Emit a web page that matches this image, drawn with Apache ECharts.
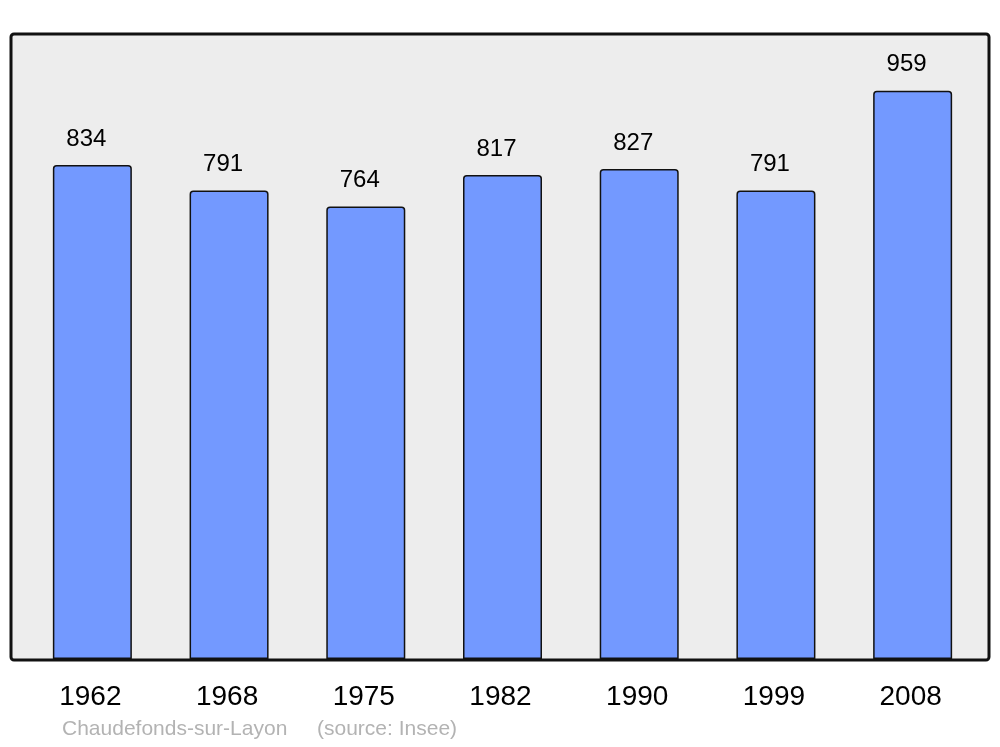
<!DOCTYPE html>
<html>
<head>
<meta charset="utf-8">
<script src="https://cdn.jsdelivr.net/npm/echarts@6/dist/echarts.min.js"></script>
<style>html,body{margin:0;padding:0;background:#fff}#c{width:1000px;height:747px}</style>
</head>
<body>
<div id="c"></div>
<script>
const years = ['1962','1968','1975','1982','1990','1999','2008'];
const population = [834, 791, 764, 817, 827, 791, 959];
const footerTitle = 'Chaudefonds-sur-Layon';
const footerSource = '(source: Insee)';

const chart = echarts.init(document.getElementById('c'), null, {renderer: 'canvas'});
chart.setOption({
  animation: false,
  backgroundColor: '#ffffff',
  grid: {left: 24, right: 19, top: 34, bottom: 88},
  xAxis: {
    type: 'category',
    data: years,
    axisLine: {show: false},
    axisTick: {show: false},
    axisLabel: {
      fontFamily: 'Liberation Sans, Arial, sans-serif',
      fontSize: 28, color: '#000', margin: 24, padding: [0, 4, 0, 0]
    }
  },
  yAxis: {
    type: 'value', min: 0, max: 1055,
    axisLine: {show: false}, axisTick: {show: false},
    axisLabel: {show: false}, splitLine: {show: false}
  },
  graphic: [
    {type: 'rect', z: -10, shape: {x: 11, y: 34, width: 978, height: 626, r: 3},
     style: {fill: '#ededed', stroke: null}},
    {type: 'rect', z: 100, shape: {x: 11, y: 34, width: 978, height: 626, r: 3},
     style: {fill: null, stroke: '#111', lineWidth: 3}},
    {type: 'text', left: 62, top: 719, style: {text: footerTitle, fill: '#b3b3b3',
      font: '21px "Liberation Sans", Arial, sans-serif'}},
    {type: 'text', left: 317, top: 719, style: {text: footerSource, fill: '#b3b3b3',
      font: '21px "Liberation Sans", Arial, sans-serif'}}
  ],
  series: [{
    type: 'bar',
    data: population,
    barWidth: 79,
    itemStyle: {color: '#7399ff', borderColor: '#111', borderWidth: 1.5, borderRadius: [3,3,0,0]},
    label: {
      show: true, position: 'top', distance: 14, offset: [-6, 0],
      fontFamily: 'Liberation Sans, Arial, sans-serif', fontSize: 24, color: '#000'
    }
  }]
});
</script>
</body>
</html>
